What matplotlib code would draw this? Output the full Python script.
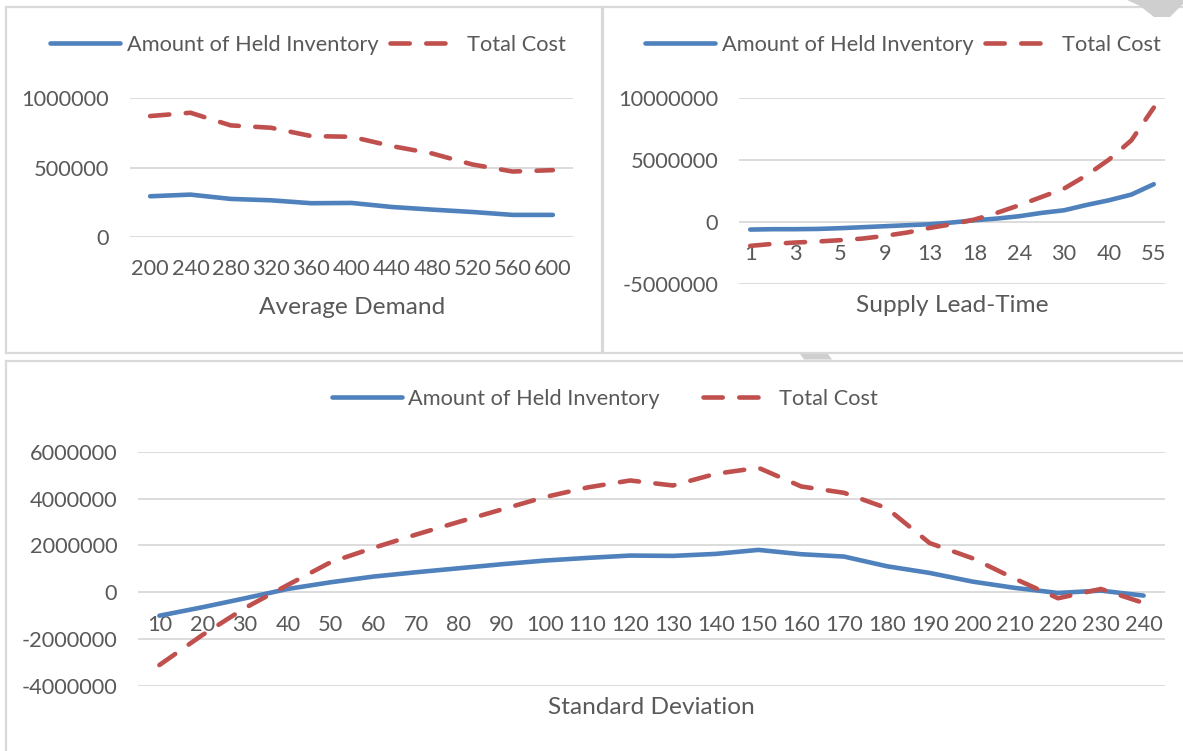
import matplotlib
matplotlib.use("Agg")
import matplotlib.pyplot as plt
from matplotlib.patches import Rectangle, Polygon
from matplotlib.lines import Line2D
from matplotlib.ticker import FuncFormatter

W, H = 1183, 751
BLUE = "#4F81BD"
RED = "#C0504D"
TEXT = "#595959"
GRID = "#D9D9D9"
FRAME = "#D9D9D9"
SIZE = 15.7

plt.rcParams["font.family"] = ["Lato", "DejaVu Sans"]
plt.rcParams["font.size"] = SIZE

# --- data -------------------------------------------------------------
demand = ["200", "240", "280", "320", "360", "400", "440", "480", "520", "560", "600"]
demand_inventory = [293000, 305000, 274000, 264000, 243000, 245000, 216000, 197000, 180000, 159000, 159000]
demand_cost = [870000, 894000, 803000, 786000, 726000, 721000, 654000, 601000, 522000, 471000, 481000]

lead_time = ["1", "2", "3", "4", "5", "7", "9", "11", "13", "15",
             "18", "21", "24", "27", "30", "35", "40", "45", "55"]
lead_inventory = [-620000, -590000, -590000, -570000, -510000, -430000, -350000, -270000, -190000, -50000,
                  130000, 270000, 460000, 730000, 940000, 1370000, 1750000, 2210000, 3050000]
lead_cost = [-1940000, -1780000, -1670000, -1590000, -1480000, -1350000, -1130000, -860000, -490000, -190000,
             190000, 730000, 1350000, 2020000, 2700000, 3770000, 5040000, 6600000, 9250000]

std_dev = [str(v) for v in range(10, 250, 10)]
std_inventory = [-1000000, -641000, -256000, 142000, 427000, 670000, 855000, 1026000, 1197000, 1353000,
                 1467000, 1567000, 1553000, 1638000, 1809000, 1624000, 1524000, 1111000, 826000, 456000,
                 185000, -28000, 71000, -142000]
std_cost = [-3105000, -1830000, -670000, 313000, 1282000, 1895000, 2464000, 3006000, 3533000, 4060000,
            4473000, 4772000, 4558000, 5057000, 5313000, 4516000, 4245000, 3590000, 2100000, 1453000,
            570000, -256000, 142000, -456000]


def box(x0, y0, x1, y1):
    """Pixel box (top-left origin) -> figure-fraction rect."""
    return [x0 / W, 1 - y1 / H, (x1 - x0) / W, (y1 - y0) / H]


fig = plt.figure(figsize=(W / 100, H / 100), dpi=100)

# chart frames
for x0, y0, x1, y1 in [(5.5, 7.5, 602, 353), (603, 7.5, 1190, 353), (5.5, 360.5, 1190, 760)]:
    fig.patches.append(Rectangle((x0 / W, 1 - y1 / H), (x1 - x0) / W, (y1 - y0) / H,
                                 transform=fig.transFigure, fill=False, edgecolor=FRAME, linewidth=1.6))
# stray grey shapes from the source document
for pts in [[(1127, 0), (1183, 0), (1183, 4), (1170, 17), (1154, 17), (1140, 6)],
            [(800, 354), (828, 354), (832, 359.5), (804, 359.5)]]:
    fig.patches.append(Polygon([(x / W, 1 - y / H) for x, y in pts], closed=True,
                               transform=fig.transFigure, facecolor="#CFCFCF", edgecolor="none"))


def draw_panel(rect, cats, inventory, cost, yticks, title, title_xy, legend_xy, colspace, label_step=1):
    ax = fig.add_axes(rect)
    xs = list(range(len(cats)))
    ax.plot(xs, inventory, color=BLUE, linewidth=3.3, solid_capstyle="round", solid_joinstyle="round")
    ax.plot(xs, cost, color=RED, linewidth=3.3, linestyle=(0, (4.2, 3.6)),
            dash_capstyle="round", dash_joinstyle="round")
    ax.set_xlim(-0.5, len(cats) - 0.5)
    ax.set_ylim(yticks[0], yticks[-1])
    ax.set_yticks(yticks)
    ax.yaxis.set_major_formatter(FuncFormatter(lambda v, _: f"{v:.0f}"))
    ax.set_xticks(xs[::label_step])
    ax.set_xticklabels(cats[::label_step])
    ax.grid(axis="y", color=GRID, linewidth=1.3)
    ax.set_axisbelow(True)
    for side in ("top", "right", "left", "bottom"):
        ax.spines[side].set_visible(False)
    ax.spines["bottom"].set_position(("data", 0))
    ax.tick_params(axis="both", length=0, colors=TEXT, labelsize=SIZE)
    ax.tick_params(axis="x", pad=16)
    ax.tick_params(axis="y", pad=15)
    ax.patch.set_alpha(0)

    fig.text(title_xy[0] / W, 1 - title_xy[1] / H, title, ha="center", va="center",
             color=TEXT, fontsize=17.6)
    handles = [
        Line2D([], [], color=BLUE, linewidth=3.3, solid_capstyle="round"),
        Line2D([], [], color=RED, linewidth=3.3, linestyle=(0, (4.2, 3.6)), dash_capstyle="round"),
    ]
    fig.legend(handles, ["Amount of Held Inventory", "Total Cost"], loc="center",
               bbox_to_anchor=(legend_xy[0] / W, 1 - legend_xy[1] / H), ncol=2, frameon=False,
               handlelength=3.2, handletextpad=0.3, columnspacing=colspace,
               labelcolor=TEXT, fontsize=SIZE, borderaxespad=0, borderpad=0)
    return ax


draw_panel(box(130, 98, 573, 237), demand, demand_inventory, demand_cost,
           [0, 500000, 1000000], "Average Demand", (352, 307), (308, 45), 0.55)
draw_panel(box(739, 98.3, 1165, 283.7), lead_time, lead_inventory, lead_cost,
           [-5000000, 0, 5000000, 10000000], "Supply Lead-Time", (952, 306), (903, 45), 0.55,
           label_step=2)
draw_panel(box(138, 451.7, 1165, 686), std_dev, std_inventory, std_cost,
           [-4000000, -2000000, 0, 2000000, 4000000, 6000000], "Standard Deviation", (651, 707),
           (605, 399), 1.95)

fig.savefig("out.png", dpi=100)
